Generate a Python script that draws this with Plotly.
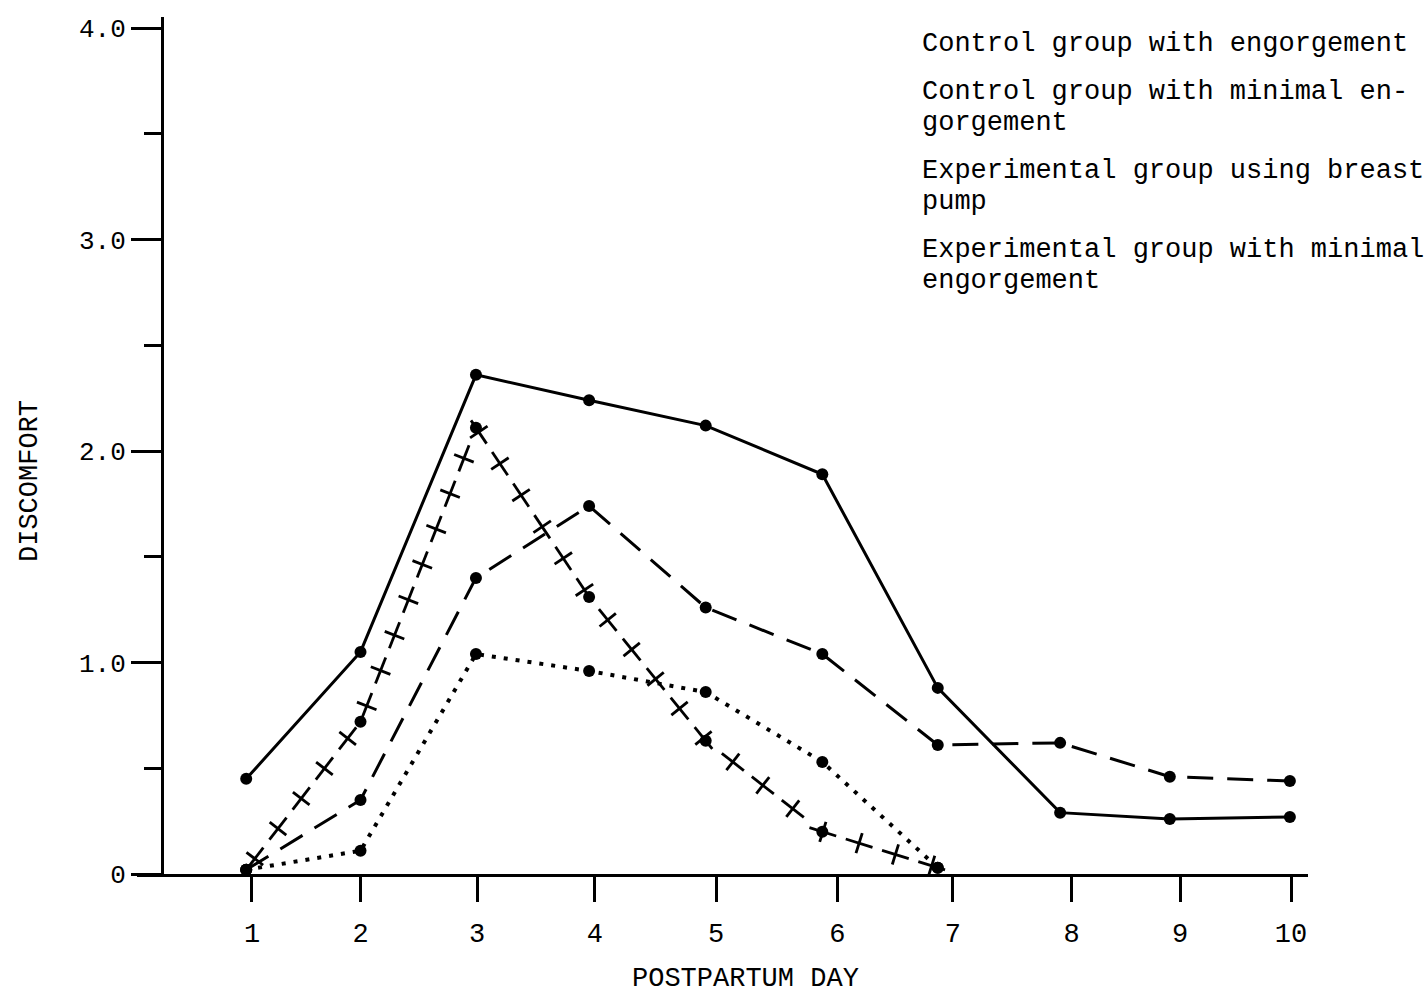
import math
import plotly.graph_objects as go

# ---- data -------------------------------------------------------------
day_labels = ["1", "2", "3", "4", "5", "6", "7", "8", "9", "10"]
# positions of the hand-drawn day ticks along the axis (in day units)
day_tick_pos = [1.0, 1.94, 2.95, 3.97, 5.02, 6.07, 7.07, 8.10, 9.04, 10.0]
# positions at which each day's means were plotted
day_point_pos = [0.95, 1.94, 2.94, 3.92, 4.93, 5.94, 6.94, 8.00, 8.95, 9.99]

control_engorged = [0.45, 1.05, 2.36, 2.24, 2.12, 1.89, 0.88, 0.29, 0.26, 0.27]
control_minimal = [0.02, 0.35, 1.40, 1.74, 1.26, 1.04, 0.61, 0.62, 0.46, 0.44]
exp_pump = [0.02, 0.72, 2.11, 1.31, 0.63, 0.20, 0.03]
exp_minimal = [0.02, 0.11, 1.04, 0.96, 0.86, 0.53, 0.03]

y_tick_vals = [0, 1, 2, 3, 4]
y_tick_text = ["0", "1.0", "2.0", "3.0", "4.0"]
y_minor_vals = [0.5, 1.5, 2.5, 3.5]

legend_lines = [
    ["Control group with engorgement"],
    ["Control group with minimal en-", "gorgement"],
    ["Experimental group using breast", "pump"],
    ["Experimental group with minimal", "engorgement"],
]

# ---- layout geometry --------------------------------------------------
W, H = 1424, 996
M_L, M_R, M_T, M_B = 137, 116, 17, 122
PLOT_W = W - M_L - M_R
PLOT_H = H - M_T - M_B
X_RANGE = [0.004, 10.147]
Y_RANGE = [0.0, 4.052]
Y_AXIS_AT = 25 / PLOT_W          # y axis sits a little right of the x-axis start

FONT = "Liberation Mono, Courier New, monospace"
INK = "black"

px_x = PLOT_W / (X_RANGE[1] - X_RANGE[0])
px_y = PLOT_H / (Y_RANGE[1] - Y_RANGE[0])


def paper_x(px):
    return (px - M_L) / PLOT_W


def paper_y(py):
    return (H - M_B - py) / PLOT_H


def cross_marks(xs, ys, spacing=38.0, start=14.0):
    """Positions/angles of the cross strokes that make up the crossed line style."""
    pts = [(x * px_x, y * px_y) for x, y in zip(xs, ys)]
    out_x, out_y, out_a = [], [], []
    pos = start
    travelled = 0.0
    for (x0, y0), (x1, y1) in zip(pts[:-1], pts[1:]):
        seg = math.hypot(x1 - x0, y1 - y0)
        ang = -math.degrees(math.atan2(y1 - y0, x1 - x0))
        while pos <= travelled + seg:
            t = (pos - travelled) / seg
            out_x.append((x0 + t * (x1 - x0)) / px_x)
            out_y.append((y0 + t * (y1 - y0)) / px_y)
            out_a.append(ang)
            pos += spacing
        travelled += seg
    return out_x, out_y, out_a


fig = go.Figure()

# solid line: control group with engorgement
fig.add_trace(go.Scatter(
    x=day_point_pos, y=control_engorged, mode="lines+markers",
    line=dict(color=INK, width=3),
    marker=dict(color=INK, size=12),
    cliponaxis=False, name=legend_lines[0][0]))

# long dashes: control group with minimal engorgement
fig.add_trace(go.Scatter(
    x=day_point_pos, y=control_minimal, mode="lines+markers",
    line=dict(color=INK, width=3, dash="26px,14px"),
    marker=dict(color=INK, size=12),
    cliponaxis=False, name=" ".join(legend_lines[1])))

# crossed line: experimental group using breast pump
px_days = day_point_pos[:len(exp_pump)]
cx, cy, ca = cross_marks(px_days, exp_pump)
fig.add_trace(go.Scatter(
    x=cx, y=cy, mode="markers", hoverinfo="skip", showlegend=False,
    marker=dict(symbol="line-ew", size=20, angle=ca,
                line=dict(color=INK, width=2.8)),
    cliponaxis=False))
fig.add_trace(go.Scatter(
    x=cx, y=cy, mode="markers", hoverinfo="skip", showlegend=False,
    marker=dict(symbol="line-ns", size=15, angle=ca,
                line=dict(color=INK, width=2.8)),
    cliponaxis=False))
fig.add_trace(go.Scatter(
    x=px_days, y=exp_pump, mode="markers",
    marker=dict(color=INK, size=12),
    cliponaxis=False, name=" ".join(legend_lines[2])))

# dotted line: experimental group with minimal engorgement
fig.add_trace(go.Scatter(
    x=day_point_pos[:len(exp_minimal)], y=exp_minimal, mode="lines+markers",
    line=dict(color=INK, width=4, dash="4px,8px"),
    marker=dict(color=INK, size=12),
    cliponaxis=False, name=" ".join(legend_lines[3])))

# legend text block (no samples, typed beside the graph)
line_px = 44
for entry in legend_lines:
    for i, txt in enumerate(entry):
        fig.add_annotation(
            x=paper_x(920), y=paper_y(line_px), xref="paper", yref="paper",
            text=txt, showarrow=False, xanchor="left", yanchor="middle",
            font=dict(family=FONT, size=27, color=INK))
        line_px += 31 if i < len(entry) - 1 else 48

# axis titles
fig.add_annotation(
    x=paper_x(30), y=paper_y(481), xref="paper", yref="paper",
    text="DISCOMFORT", textangle=-90, showarrow=False,
    xanchor="center", yanchor="middle",
    font=dict(family=FONT, size=27, color=INK))
fig.add_annotation(
    x=paper_x(745), y=paper_y(979), xref="paper", yref="paper",
    text="POSTPARTUM DAY", showarrow=False,
    xanchor="center", yanchor="middle",
    font=dict(family=FONT, size=27, color=INK))

fig.update_layout(
    width=W, height=H,
    margin=dict(l=M_L, r=M_R, t=M_T, b=M_B, pad=0),
    paper_bgcolor="white", plot_bgcolor="white",
    showlegend=False,
    font=dict(family=FONT, size=26, color=INK),
    xaxis=dict(
        range=X_RANGE, showgrid=False, zeroline=False,
        showline=True, linecolor=INK, linewidth=3,
        tickmode="array", tickvals=day_tick_pos, ticktext=day_labels,
        ticks="outside", ticklen=25, tickwidth=2.5, tickcolor=INK,
        ticklabelstandoff=8,
        tickfont=dict(family=FONT, size=27, color=INK)),
    yaxis=dict(
        range=Y_RANGE, showgrid=False, zeroline=False,
        anchor="free", position=Y_AXIS_AT,
        showline=True, linecolor=INK, linewidth=3,
        tickmode="array", tickvals=y_tick_vals, ticktext=y_tick_text,
        ticks="outside", ticklen=30, tickwidth=2.5, tickcolor=INK,
        ticklabelstandoff=0,
        tickfont=dict(family=FONT, size=26, color=INK),
        minor=dict(tickmode="array", tickvals=y_minor_vals, ticks="outside",
                   ticklen=17, tickwidth=2.5, tickcolor=INK)),
)

fig.write_html("out.html")
